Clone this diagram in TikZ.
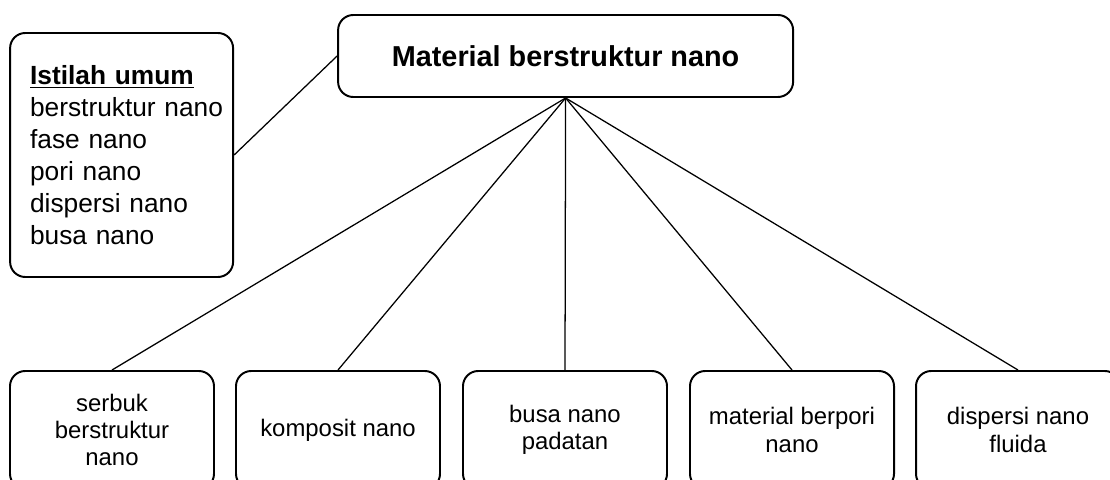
\documentclass[tikz,border=0pt]{standalone}
\usepackage{fontspec}
\setmainfont{Liberation Sans}
\begin{document}
\begin{tikzpicture}[
  box/.style={draw, line width=1.4pt, rounded corners=0.38cm},
  kind/.style={box, minimum width=5.1cm, minimum height=2.95cm, align=center, font=\fontsize{17}{19.5}\selectfont},
  link/.style={line width=0.9pt}
]
% Fix the page size
\clip (0,0) rectangle (27.75,11.975);
% Draw main box
\node[box, minimum width=11.375cm, minimum height=2.05cm, font=\fontsize{20.5}{24}\selectfont\bfseries] (main) at (14.14,10.575) {Material berstruktur nano};
% Draw box of general terms
\node[box, minimum height=6.1cm, text width=4.575cm, inner xsep=0.5cm, align=left, font=\fontsize{18.7}{22.7}\selectfont] (terms) at (3.04,8.1) {\underline{\textbf{Istilah umum}}\\ berstruktur~nano\\ fase nano\\ pori nano\\ dispersi nano\\ busa nano};
% Draw the five kinds of material
\node[kind] (powder) at (2.8,1.225) {serbuk\\ berstruktur\\ nano};
\node[kind] (composite) at (8.45,1.225) {komposit nano};
\node[kind] (foam) at (14.125,1.225) {busa nano\\ padatan};
\node[kind] (porous) at (19.8,1.225) {material berpori\\ nano};
\node[kind] (fluid) at (25.45,1.225) {dispersi nano\\ fluida};
% Connect terms to main box
\draw[link] (terms.east) -- (main.west);
% Fan out to the kinds
\foreach \k in {powder, composite, foam, porous, fluid}
  \draw[link] (main.south) -- (\k.north);
\end{tikzpicture}
\end{document}
